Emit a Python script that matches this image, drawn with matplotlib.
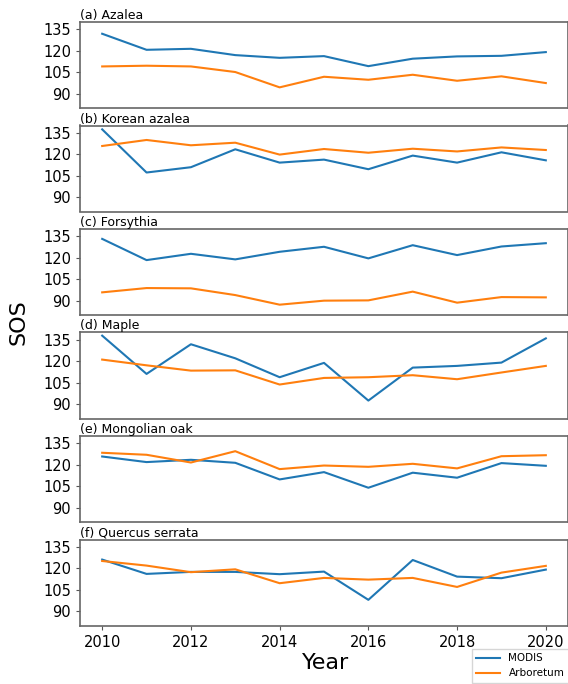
import matplotlib
matplotlib.use("Agg")
import matplotlib.pyplot as plt

years = list(range(2010, 2021))

titles = [
    "(a) Azalea",
    "(b) Korean azalea",
    "(c) Forsythia",
    "(d) Maple",
    "(e) Mongolian oak",
    "(f) Quercus serrata",
]

modis_azalea = [131.8, 120.6, 121.3, 116.9, 115.0, 116.2, 109.2, 114.4, 116.0, 116.4, 119.0]
arbo_azalea = [109.0, 109.5, 109.0, 105.1, 94.4, 101.8, 99.7, 103.2, 99.0, 102.1, 97.4]

modis_korean = [137.3, 107.2, 110.9, 123.4, 114.1, 116.2, 109.5, 119.0, 114.1, 121.3, 115.7]
arbo_korean = [125.7, 129.9, 126.2, 128.0, 119.7, 123.6, 121.0, 123.8, 121.9, 124.7, 122.9]

modis_forsythia = [133.1, 118.3, 122.7, 118.8, 124.1, 127.6, 119.5, 128.7, 121.8, 127.8, 130.1]
arbo_forsythia = [95.8, 98.8, 98.6, 93.9, 87.2, 90.0, 90.2, 96.3, 88.6, 92.5, 92.3]

modis_maple = [137.8, 111.1, 131.8, 122.0, 108.8, 118.8, 92.5, 115.5, 116.7, 119.0, 135.9]
arbo_maple = [121.1, 117.1, 113.4, 113.6, 103.7, 108.3, 108.8, 110.2, 107.4, 112.1, 116.7]

modis_oak = [125.7, 121.8, 123.4, 121.3, 109.7, 114.8, 103.9, 114.4, 110.9, 121.1, 119.2]
arbo_oak = [128.3, 126.9, 121.5, 129.4, 116.9, 119.4, 118.5, 120.6, 117.4, 125.9, 126.6]

modis_quercus = [126.0, 116.0, 117.4, 117.4, 115.8, 117.6, 97.9, 125.7, 114.1, 113.0, 119.0]
arbo_quercus = [125.0, 121.8, 117.2, 119.2, 109.5, 113.2, 112.0, 113.2, 106.9, 116.9, 121.6]

modis = [modis_azalea, modis_korean, modis_forsythia, modis_maple, modis_oak, modis_quercus]
arboretum = [arbo_azalea, arbo_korean, arbo_forsythia, arbo_maple, arbo_oak, arbo_quercus]

yticks = [90, 105, 120, 135]

W, H = 568, 684
fig = plt.figure(figsize=(W / 100, H / 100), dpi=100)
fig.patch.set_facecolor("white")

# panel geometry in pixels; the right spine runs to the canvas edge
left, right = 80, 568
top0, step, height = 22, 103.5, 86

for i, (title, m, a) in enumerate(zip(titles, modis, arboretum)):
    top = top0 + i * step
    ax = fig.add_axes([left / W, 1 - (top + height) / H, (right - left) / W, height / H])
    l1, = ax.plot(years, m, color="#1f77b4", lw=1.5, label="MODIS")
    l2, = ax.plot(years, a, color="#ff7f0e", lw=1.5, label="Arboretum")
    ax.set_xlim(2009.5, 2020.5)
    ax.set_ylim(80, 140)
    ax.set_yticks(yticks)
    ax.tick_params(axis="y", labelsize=10.5, length=3, color="#555555")
    ax.set_title(title, loc="left", fontsize=9, pad=2)
    for sp in ax.spines.values():
        sp.set_color("#666666")
        sp.set_linewidth(1.2)
    if i < len(titles) - 1:
        ax.tick_params(axis="x", bottom=False, labelbottom=False)
    else:
        ax.set_xticks([2010, 2012, 2014, 2016, 2018, 2020])
        ax.tick_params(axis="x", labelsize=10.5, length=3, color="#555555")

fig.text(18 / W, 1 - 322 / H, "SOS", rotation=90, ha="center", va="center", fontsize=16)
fig.text(326 / W, 1 - 663 / H, "Year", ha="center", va="center", fontsize=16)

fig.legend([l1, l2], ["MODIS", "Arboretum"], loc="upper left",
           bbox_to_anchor=(472 / W, 1 - 649 / H), borderaxespad=0,
           fontsize=7.5, handlelength=2.3, frameon=True, fancybox=False,
           edgecolor="#cccccc")

fig.savefig("out.png", dpi=100, facecolor="white")
